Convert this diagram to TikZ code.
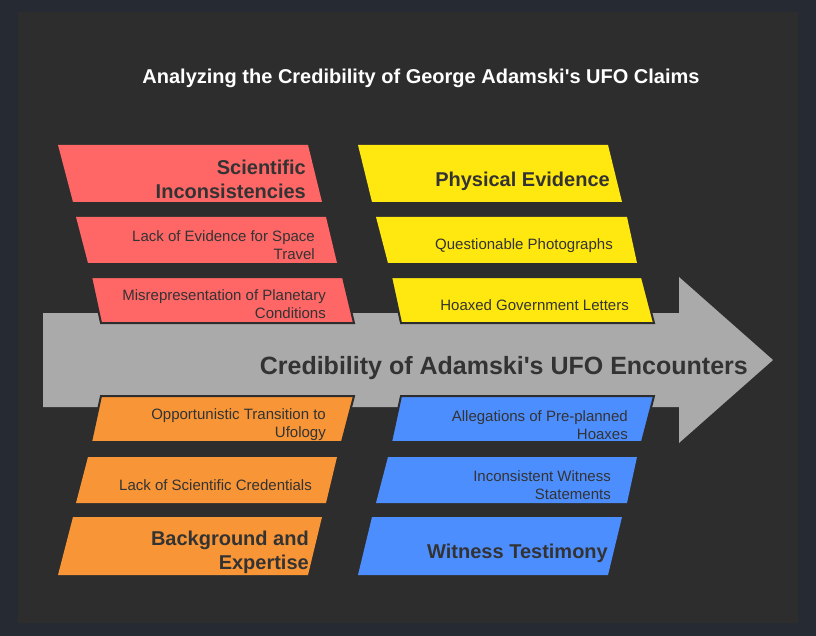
\documentclass[tikz,border=0pt]{standalone}
\usepackage{fontspec}
\setmainfont{Liberation Sans}
\newcommand{\sq}{\textquotesingle}
\begin{document}
\definecolor{outerbg}{HTML}{262A33}
\definecolor{panelbg}{HTML}{2D2D2D}
\definecolor{inktext}{HTML}{333333}
\definecolor{spine}{HTML}{AAAAAA}
\definecolor{redbox}{HTML}{FF6666}
\definecolor{yellowbox}{HTML}{FFE80F}
\definecolor{orangebox}{HTML}{F79537}
\definecolor{bluebox}{HTML}{4D8EFF}
\begin{tikzpicture}[x=1pt,y=-1pt,
  edged/.style={draw=panelbg,line width=2pt,line join=miter},
  smalltxt/.style={anchor=east,align=right,inner sep=0pt,text=inktext,
    font=\fontsize{15}{18}\selectfont},
  headtxt/.style={anchor=east,align=right,inner sep=0pt,text=inktext,
    font=\fontsize{20}{24}\selectfont\bfseries},
]
% background and panel
\fill[outerbg] (0,0) rectangle (816,636);
\useasboundingbox (0,0) rectangle (816,636);
\fill[panelbg] (18,12) rectangle (798,623);

% title
\node[text=white,font=\fontsize{20}{24}\selectfont\bfseries,inner sep=0pt]
  (title) at (421,78.5) {Analyzing the Credibility of George Adamski\sq s UFO Claims};

% central spine arrow
\fill[spine] (43,313) -- (679,313) -- (679,277) -- (773,360) -- (679,443)
  -- (679,407) -- (43,407) -- cycle;
\node[anchor=east,inner sep=0pt,text=inktext,
  font=\fontsize{25}{30}\selectfont\bfseries] (effect) at (748,368.5)
  {Credibility of Adamski\sq s UFO Encounters};

% upper left: scientific inconsistencies
\fill[redbox] (58,145) -- (308,145) -- (322,202) -- (73,202) -- cycle;
\node[headtxt] (sci) at (306,179) {Scientific\\Inconsistencies};
\fill[redbox] (76,217) -- (326,217) -- (337,263) -- (88,263) -- cycle;
\node[smalltxt] (sci1) at (315,245) {Lack of Evidence for Space\\Travel};
\filldraw[redbox,edged] (91,277) -- (343,277) -- (354,323) -- (101,323) -- cycle;
\node[smalltxt] (sci2) at (326,304.5) {Misrepresentation of Planetary\\Conditions};

% upper right: physical evidence
\fill[yellowbox] (358,145) -- (608,145) -- (622,202) -- (372,202) -- cycle;
\node[headtxt] (phys) at (610,181) {Physical Evidence};
\fill[yellowbox] (376,217) -- (627,217) -- (637,263) -- (388,263) -- cycle;
\node[smalltxt] (phys1) at (613,245.5) {Questionable Photographs};
\filldraw[yellowbox,edged] (391,277) -- (642,277) -- (654,323) -- (401,323) -- cycle;
\node[smalltxt] (phys2) at (629,305.5) {Hoaxed Government Letters};

% lower left: background and expertise
\filldraw[orangebox,edged] (101,396) -- (354,396) -- (342,442) -- (91,442) -- cycle;
\node[smalltxt] (bg1) at (326,425) {Opportunistic Transition to\\Ufology};
\fill[orangebox] (88,457) -- (337,457) -- (326,503) -- (76,503) -- cycle;
\node[smalltxt] (bg2) at (312,485.5) {Lack of Scientific Credentials};
\fill[orangebox] (73,517) -- (322,517) -- (308,575) -- (58,575) -- cycle;
\node[headtxt] (bg) at (309,552) {Background and\\Expertise};

% lower right: witness testimony
\filldraw[bluebox,edged] (401,396) -- (654,396) -- (642,442) -- (391,442) -- cycle;
\node[smalltxt] (wit1) at (628,425) {Allegations of Pre-planned\\Hoaxes};
\fill[bluebox] (388,457) -- (637,457) -- (627,503) -- (376,503) -- cycle;
\node[smalltxt] (wit2) at (611,485) {Inconsistent Witness\\Statements};
\fill[bluebox] (372,517) -- (622,517) -- (608,575) -- (358,575) -- cycle;
\node[headtxt] (wit) at (608,553) {Witness Testimony};
\end{tikzpicture}
\end{document}
